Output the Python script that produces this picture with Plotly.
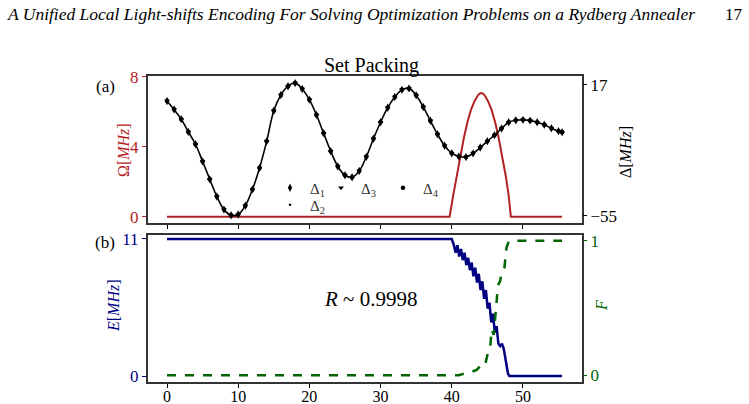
import plotly.graph_objects as go

# ---------------- data ----------------
t_delta = [0, 1, 2, 3, 4, 5, 6, 7, 8, 9, 10, 11, 12, 13, 14, 15, 16, 17, 18, 19,
           20, 21, 22, 23, 24, 25, 26, 27, 28, 29, 30, 31, 32, 33, 34, 35, 36, 37,
           38, 39, 40, 41, 42, 43, 44, 45, 46, 47, 48, 49, 50, 51, 52, 53, 54, 55, 55.5]
delta = [8.2, 3.5, -1.8, -8.8, -15.6, -25.0, -34.8, -44.3, -51.5, -54.6, -54.2, -49.4,
         -40.4, -28.6, -14.0, 2.8, 11.5, 16.3, 18.0, 14.8, 8.9, 0.5, -9.5, -19.4, -27.8,
         -32.6, -33.7, -30.3, -22.5, -12.6, -3.5, 4.5, 10.4, 14.3, 15.1, 11.3, 4.9, -2.7,
         -10.1, -16.4, -20.5, -22.3, -22.6, -20.6, -17.4, -13.9, -10.6, -6.9, -3.5, -2.4,
         -2.2, -2.6, -3.5, -4.9, -6.8, -8.4, -9.0]

t_omega = [0, 39.7, 40.2, 40.7, 41.2, 41.7, 42.2, 42.7, 43.2, 43.7, 44.0, 44.3, 44.6,
           45.1, 45.6, 46.1, 46.6, 47.1, 47.6, 48.0, 48.3, 55.5]
omega = [0, 0, 1.2, 2.3, 3.5, 4.5, 5.4, 6.1, 6.6, 6.95, 7.05, 7.05, 6.95,
         6.6, 6.1, 5.4, 4.5, 3.5, 2.3, 1.2, 0, 0]

t_energy = [0, 40.0, 40.3, 40.55, 40.8, 41.05, 41.3, 41.55, 41.8, 42.05, 42.3, 42.55,
            42.8, 43.05, 43.3, 43.55, 43.8, 44.05, 44.3, 44.55, 44.8, 45.05, 45.3,
            45.55, 45.8, 46.05, 46.3, 46.55, 46.8, 47.05, 47.3, 47.6, 47.9, 48.1, 55.5]
energy = [11, 11, 10.5, 9.9, 10.5, 9.6, 10.2, 9.3, 9.9, 8.9, 9.5, 8.5,
          9.1, 8.0, 8.7, 7.5, 8.2, 6.9, 7.6, 6.2, 6.9, 5.4, 5.9,
          4.3, 5.0, 3.5, 4.0, 2.6, 2.4, 2.6, 2.2, 1.2, 0.2, 0, 0]

t_fid = [0, 41.0, 41.6, 42.5, 43.5, 44.0, 44.4, 44.7, 45.1, 45.4, 45.6, 45.9, 46.1,
         46.3, 46.5, 46.8, 47.0, 47.4, 47.7, 48.0, 48.3, 55.5]
fidelity = [0, 0, 0.01, 0.02, 0.04, 0.07, 0.09, 0.08, 0.17, 0.2, 0.34, 0.3, 0.41,
            0.55, 0.67, 0.7, 0.76, 0.8, 0.95, 0.99, 1.0, 1.0]

x_ticks = [0, 10, 20, 30, 40, 50]
omega_ticks = [0, 4, 8]
delta_ticks = [-55, 17]
energy_ticks = [0, 11]
fid_ticks = [0, 1]

# ---------------- styles ----------------
RED = "#b22222"
NAVY = "#000080"
GREEN = "#006400"
FRAME = "#333333"
FONT = "Liberation Serif"

W, H = 749, 404
L, R, T, B = 148, 582, 76, 382


def px_x(p):
    return (p - L) / (R - L)


def px_y(p):
    return (B - p) / (B - T)


fig = go.Figure()

# panel (a)
fig.add_trace(go.Scatter(x=t_omega, y=omega, mode="lines", line=dict(color=RED, width=2),
                         xaxis="x", yaxis="y", showlegend=False))
fig.add_trace(go.Scatter(x=t_delta, y=delta, mode="lines", line=dict(color="black", width=1.6, shape="spline"),
                         xaxis="x", yaxis="y2", showlegend=False))
marker_specs = [
    ("Δ<sub>1</sub>", "diamond-tall", 6, "legend"),
    ("Δ<sub>2</sub>", "circle", 2.5, "legend2"),
    ("Δ<sub>3</sub>", "triangle-down", 5, "legend3"),
    ("Δ<sub>4</sub>", "circle", 4.5, "legend4"),
]
for name, sym, size, leg in marker_specs:
    fig.add_trace(go.Scatter(x=t_delta, y=delta, mode="markers", name=name,
                             marker=dict(symbol=sym, size=size, color="black"),
                             xaxis="x", yaxis="y2", legend=leg))

# panel (b)
fig.add_trace(go.Scatter(x=t_energy, y=energy, mode="lines", line=dict(color=NAVY, width=2.5),
                         xaxis="x2", yaxis="y3", showlegend=False))
fig.add_trace(go.Scatter(x=t_fid, y=fidelity, mode="lines", line=dict(color=GREEN, width=2.5, dash="dash"),
                         xaxis="x2", yaxis="y4", showlegend=False))

xr = [-2.67, 58.3]
common_x = dict(range=xr, tickvals=x_ticks, ticks="outside", ticklen=4, tickcolor="black",
                showline=True, linecolor=FRAME, linewidth=2, mirror=True, showgrid=False,
                zeroline=False, automargin=False, tickfont=dict(family=FONT, size=16, color="black"))

dom_a = [px_y(223), 1]
dom_b = [0, px_y(235)]

fig.update_layout(
    width=W, height=H, autosize=False,
    margin=dict(l=L, r=W - R, t=T, b=H - B, autoexpand=False),
    paper_bgcolor="white", plot_bgcolor="white",
    font=dict(family=FONT, color="black"),
    xaxis=dict(common_x, anchor="y", showticklabels=False),
    xaxis2=dict(common_x, anchor="y3", ticklabelstandoff=-5),
    yaxis=dict(domain=dom_a, range=[-0.36, 8.04], tickvals=omega_ticks, ticks="outside", ticklen=4,
               tickcolor=RED, tickfont=dict(family=FONT, size=17, color=RED), automargin=False,
               showline=True, linecolor=FRAME, linewidth=2, mirror=True, showgrid=False, zeroline=False),
    yaxis2=dict(overlaying="y", side="right", anchor="x", range=[-58.85, 21.9], tickvals=delta_ticks,
                ticks="outside", ticklen=4, tickcolor="black", automargin=False,
                tickfont=dict(family=FONT, size=17, color="black"),
                showline=False, showgrid=False, zeroline=False),
    yaxis3=dict(domain=dom_b, anchor="x2", range=[-0.48, 11.32], tickvals=energy_ticks, ticks="outside",
                ticklen=4, tickcolor=NAVY, tickfont=dict(family=FONT, size=17, color=NAVY), automargin=False,
                showline=True, linecolor=FRAME, linewidth=2, mirror=True, showgrid=False, zeroline=False),
    yaxis4=dict(overlaying="y3", side="right", anchor="x2", range=[-0.05, 1.042], tickvals=fid_ticks,
                ticks="outside", ticklen=4, tickcolor=GREEN, tickfont=dict(family=FONT, size=17, color=GREEN),
                showline=False, showgrid=False, zeroline=False, automargin=False),
)

leg_common = dict(bgcolor="rgba(0,0,0,0)", borderwidth=0, font=dict(family=FONT, size=15, color="#333"),
                  xanchor="left", yanchor="middle", itemwidth=30, tracegroupgap=0)
fig.update_layout(
    legend=dict(leg_common, x=px_x(270), y=px_y(188)),
    legend2=dict(leg_common, x=px_x(270), y=px_y(205)),
    legend3=dict(leg_common, x=px_x(321), y=px_y(188)),
    legend4=dict(leg_common, x=px_x(383), y=px_y(188)),
)

annotations = [
    dict(text="<i>A Unified Local Light-shifts Encoding For Solving Optimization Problems on a Rydberg Annealer</i>",
         x=px_x(5), y=px_y(14), xanchor="left", yanchor="middle", font=dict(family=FONT, size=17.5)),
    dict(text="17", x=px_x(745), y=px_y(14), xanchor="right", yanchor="middle", font=dict(family=FONT, size=17)),
    dict(text="Set Packing", x=px_x(371), y=px_y(66), xanchor="center", yanchor="middle",
         font=dict(family=FONT, size=20)),
    dict(text="(a)", x=px_x(105), y=px_y(86), xanchor="center", yanchor="middle", font=dict(family=FONT, size=17)),
    dict(text="(b)", x=px_x(105), y=px_y(242), xanchor="center", yanchor="middle", font=dict(family=FONT, size=17)),
    dict(text="<i>R</i> ~ 0.9998", x=px_x(370), y=px_y(299), xanchor="center", yanchor="middle",
         font=dict(family=FONT, size=21)),
    # axis titles
    dict(text="Ω[<i>MHz</i>]", x=px_x(123), y=px_y(150), textangle=-90, xanchor="center", yanchor="middle",
         font=dict(family=FONT, size=16, color=RED)),
    dict(text="Δ[<i>MHz</i>]", x=px_x(625), y=px_y(152), textangle=-90, xanchor="center", yanchor="middle",
         font=dict(family=FONT, size=16, color="black")),
    dict(text="<i>E</i>[<i>MHz</i>]", x=px_x(113), y=px_y(306), textangle=-90, xanchor="center",
         yanchor="middle", font=dict(family=FONT, size=16, color=NAVY)),
    dict(text="<i>F</i>", x=px_x(601), y=px_y(306), textangle=-90, xanchor="center", yanchor="middle",
         font=dict(family=FONT, size=16, color=GREEN)),
]
for a in annotations:
    a.update(xref="paper", yref="paper", showarrow=False)
fig.update_layout(annotations=annotations)

fig.write_html("out.html")
